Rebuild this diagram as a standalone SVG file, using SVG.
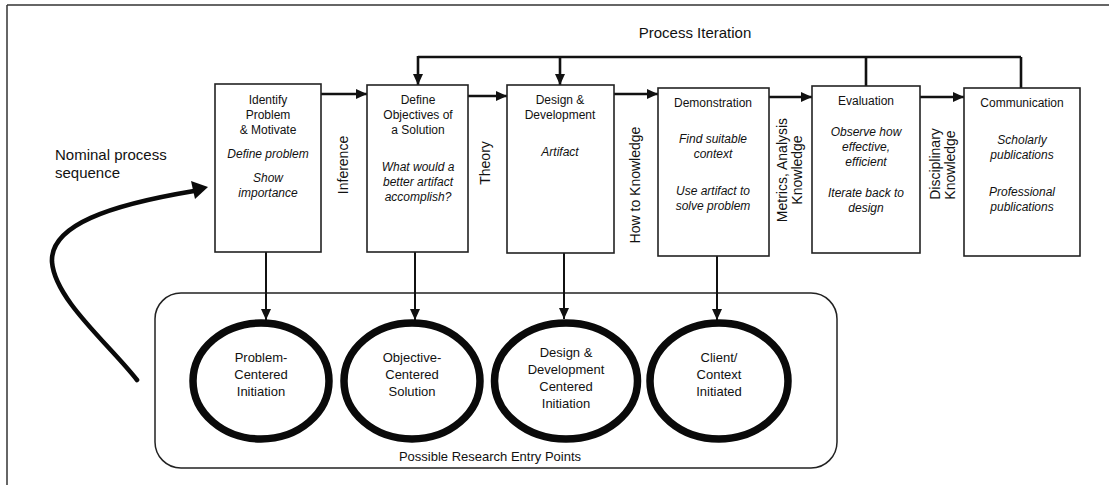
<svg xmlns="http://www.w3.org/2000/svg" width="1109" height="485" viewBox="0 0 1109 485">
  <style>
    text { font-family: "Liberation Sans", Arial, sans-serif; fill: #111; }
    .box { fill: #fff; stroke: #222; stroke-width: 1.6; }
    .t { font-size: 12px; text-anchor: middle; }
    .i { font-size: 12px; text-anchor: middle; font-style: italic; }
    .v { font-size: 14px; text-anchor: middle; }
    .c { font-size: 13px; text-anchor: middle; }
    .lbl { font-size: 15px; }
    .flow { fill: none; stroke: #111; stroke-width: 2.6; }
    .drop { fill: none; stroke: #111; stroke-width: 2; }
    .entry { fill: #fff; stroke: #0a0a0a; stroke-width: 7.5; }
  </style>
  <defs>
    <marker id="head" markerUnits="userSpaceOnUse" markerWidth="11" markerHeight="10" refX="11" refY="5" orient="auto">
      <path d="M0,0 L11,5 L0,10 z" fill="#111"/>
    </marker>
  </defs>

  <!-- page frame -->
  <g id="frame" stroke="#333" stroke-width="1.5" fill="none">
    <line x1="7" y1="5" x2="1109" y2="5"/>
    <line x1="7" y1="5" x2="7" y2="485"/>
  </g>

  <!-- free labels -->
  <text class="lbl" x="695" y="38" text-anchor="middle">Process Iteration</text>
  <text class="lbl" x="55" y="160">Nominal process</text>
  <text class="lbl" x="55" y="178">sequence</text>

  <!-- entry-point container -->
  <g id="entry-points">
    <rect x="155" y="293" width="682" height="175" rx="26" fill="none" stroke="#222" stroke-width="1.5"/>
    <text class="c" x="490" y="461">Possible Research Entry Points</text>
  </g>

  <!-- connectors -->
  <g id="connectors">
    <!-- process iteration loop -->
    <path class="flow" d="M866,86 V57 M1021,88 V57 M418,57 H1021"/>
    <line class="flow" x1="418" y1="56" x2="418" y2="85" marker-end="url(#head)"/>
    <line class="flow" x1="560" y1="57" x2="560" y2="85" marker-end="url(#head)"/>
    <!-- nominal sequence -->
    <line class="flow" x1="321" y1="94" x2="367" y2="94" marker-end="url(#head)"/>
    <line class="flow" x1="468" y1="96" x2="507" y2="96" marker-end="url(#head)"/>
    <line class="flow" x1="614" y1="94" x2="658" y2="94" marker-end="url(#head)"/>
    <line class="flow" x1="769" y1="97" x2="812" y2="97" marker-end="url(#head)"/>
    <line class="flow" x1="920" y1="97" x2="964" y2="97" marker-end="url(#head)"/>
    <!-- entry arrows -->
    <line class="drop" x1="266" y1="252" x2="266" y2="320" marker-end="url(#head)"/>
    <line class="drop" x1="415" y1="252" x2="415" y2="320" marker-end="url(#head)"/>
    <line class="drop" x1="564" y1="253" x2="564" y2="319" marker-end="url(#head)"/>
    <line class="drop" x1="717" y1="256" x2="717" y2="320" marker-end="url(#head)"/>
    <!-- nominal process sweep -->
    <path d="M137,380 C110,345 55,300 52,262 C50,225 110,205 194,191" fill="none" stroke="#0a0a0a" stroke-width="4.6" stroke-linecap="round"/>
    <polygon points="208,187 191,181 195,199" fill="#0a0a0a"/>
  </g>

  <!-- edge labels -->
  <g id="edge-labels">
    <text class="v" transform="translate(348,165) rotate(-90)">Inference</text>
    <text class="v" transform="translate(490,163) rotate(-90)">Theory</text>
    <text class="v" transform="translate(640,185) rotate(-90)">How to Knowledge</text>
    <text class="v" transform="translate(787,170) rotate(-90)">Metrics, Analysis</text>
    <text class="v" transform="translate(802,170) rotate(-90)">Knowledge</text>
    <text class="v" transform="translate(940,164) rotate(-90)">Disciplinary</text>
    <text class="v" transform="translate(955,165) rotate(-90)">Knowledge</text>
  </g>

  <!-- activity boxes -->
  <g id="identify">
    <rect class="box" x="215" y="84" width="106" height="168"/>
    <text class="t" x="268" y="104">Identify</text>
    <text class="t" x="268" y="119">Problem</text>
    <text class="t" x="268" y="134">&amp; Motivate</text>
    <text class="i" x="268" y="158">Define problem</text>
    <text class="i" x="268" y="182">Show</text>
    <text class="i" x="268" y="197">importance</text>
  </g>
  <g id="objectives">
    <rect class="box" x="367" y="85" width="101" height="167"/>
    <text class="t" x="418" y="104">Define</text>
    <text class="t" x="418" y="119">Objectives of</text>
    <text class="t" x="418" y="134">a Solution</text>
    <text class="i" x="418" y="171">What would a</text>
    <text class="i" x="418" y="186">better artifact</text>
    <text class="i" x="418" y="201">accomplish?</text>
  </g>
  <g id="design">
    <rect class="box" x="507" y="85" width="107" height="168"/>
    <text class="t" x="560" y="104">Design &amp;</text>
    <text class="t" x="560" y="119">Development</text>
    <text class="i" x="560" y="156">Artifact</text>
  </g>
  <g id="demonstration">
    <rect class="box" x="658" y="88" width="111" height="168"/>
    <text class="t" x="713" y="107">Demonstration</text>
    <text class="i" x="713" y="143">Find suitable</text>
    <text class="i" x="713" y="158">context</text>
    <text class="i" x="713" y="195">Use artifact to</text>
    <text class="i" x="713" y="210">solve problem</text>
  </g>
  <g id="evaluation">
    <rect class="box" x="812" y="86" width="108" height="167"/>
    <text class="t" x="866" y="105">Evaluation</text>
    <text class="i" x="866" y="136">Observe how</text>
    <text class="i" x="866" y="151">effective,</text>
    <text class="i" x="866" y="166">efficient</text>
    <text class="i" x="866" y="197">Iterate back to</text>
    <text class="i" x="866" y="212">design</text>
  </g>
  <g id="communication">
    <rect class="box" x="964" y="88" width="116" height="168"/>
    <text class="t" x="1022" y="107">Communication</text>
    <text class="i" x="1022" y="144">Scholarly</text>
    <text class="i" x="1022" y="159">publications</text>
    <text class="i" x="1022" y="196">Professional</text>
    <text class="i" x="1022" y="211">publications</text>
  </g>

  <!-- entry point ellipses -->
  <g id="problem-centered">
    <ellipse class="entry" cx="261" cy="381" rx="68" ry="58"/>
    <text class="c" x="261" y="362">Problem-</text>
    <text class="c" x="261" y="379">Centered</text>
    <text class="c" x="261" y="396">Initiation</text>
  </g>
  <g id="objective-centered">
    <ellipse class="entry" cx="412" cy="381" rx="68" ry="58"/>
    <text class="c" x="412" y="362">Objective-</text>
    <text class="c" x="412" y="379">Centered</text>
    <text class="c" x="412" y="396">Solution</text>
  </g>
  <g id="design-centered">
    <ellipse class="entry" cx="566" cy="381" rx="71.5" ry="58"/>
    <text class="c" x="566" y="357">Design &amp;</text>
    <text class="c" x="566" y="374">Development</text>
    <text class="c" x="566" y="391">Centered</text>
    <text class="c" x="566" y="408">Initiation</text>
  </g>
  <g id="client-initiated">
    <ellipse class="entry" cx="719" cy="381" rx="69" ry="58"/>
    <text class="c" x="719" y="362">Client/</text>
    <text class="c" x="719" y="379">Context</text>
    <text class="c" x="719" y="396">Initiated</text>
  </g>
</svg>
